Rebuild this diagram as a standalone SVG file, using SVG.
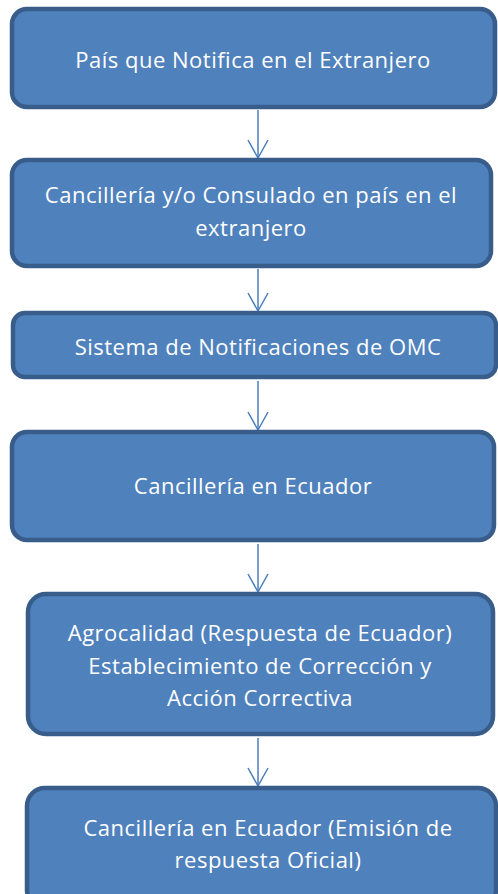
<svg xmlns="http://www.w3.org/2000/svg" width="498" height="894" viewBox="0 0 498 894">
<defs>
<style>
.box{fill:#4f81bd;stroke:#385d8a;stroke-width:4.5}
.t{font-family:"Open Sans","Liberation Sans",Arial,sans-serif;font-size:22px;letter-spacing:0.5px;fill:#ffffff;text-anchor:middle}
.c{stroke:#4a7ebb;stroke-width:1.5;fill:none}
</style>
</defs>
<rect width="498" height="894" fill="#ffffff"/>
<g id="connectors">
<line class="c" x1="258" y1="110" x2="258" y2="157"/>
<line class="c" x1="258" y1="269" x2="258" y2="310"/>
<line class="c" x1="258" y1="381" x2="258" y2="429"/>
<line class="c" x1="258" y1="544" x2="258" y2="591"/>
<line class="c" x1="258" y1="738" x2="258" y2="785"/>
<path class="c" d="M248,140 L258,158 L268,140"/>
<path class="c" d="M248,293 L258,311 L268,293"/>
<path class="c" d="M248,412 L258,430 L268,412"/>
<path class="c" d="M248,574 L258,592 L268,574"/>
<path class="c" d="M248,768 L258,786 L268,768"/>
</g>
<g id="n1">
<rect class="box" x="12" y="9" width="483" height="98" rx="15"/>
<text class="t" x="253" y="68">País que Notifica en el Extranjero</text>
</g>
<g id="n2">
<rect class="box" x="12" y="160" width="479" height="106" rx="15"/>
<text class="t" x="251" y="203">Cancillería y/o Consulado en país en el</text>
<text class="t" x="251" y="236">extranjero</text>
</g>
<g id="n3">
<rect class="box" x="13" y="313" width="483" height="64" rx="12"/>
<text class="t" x="258" y="355">Sistema de Notificaciones de OMC</text>
</g>
<g id="n4">
<rect class="box" x="12" y="432" width="482" height="108" rx="15"/>
<text class="t" x="253" y="494">Cancillería en Ecuador</text>
</g>
<g id="n5">
<rect class="box" x="28" y="594" width="465" height="140" rx="18"/>
<text class="t" x="260" y="641">Agrocalidad (Respuesta de Ecuador)</text>
<text class="t" x="260" y="674">Establecimiento de Corrección y</text>
<text class="t" x="260" y="706">Acción Correctiva</text>
</g>
<g id="n6">
<rect class="box" x="27" y="788" width="469" height="120" rx="18"/>
<text class="t" x="268" y="836">Cancillería en Ecuador (Emisión de</text>
<text class="t" x="268" y="868">respuesta Oficial)</text>
</g>
</svg>
